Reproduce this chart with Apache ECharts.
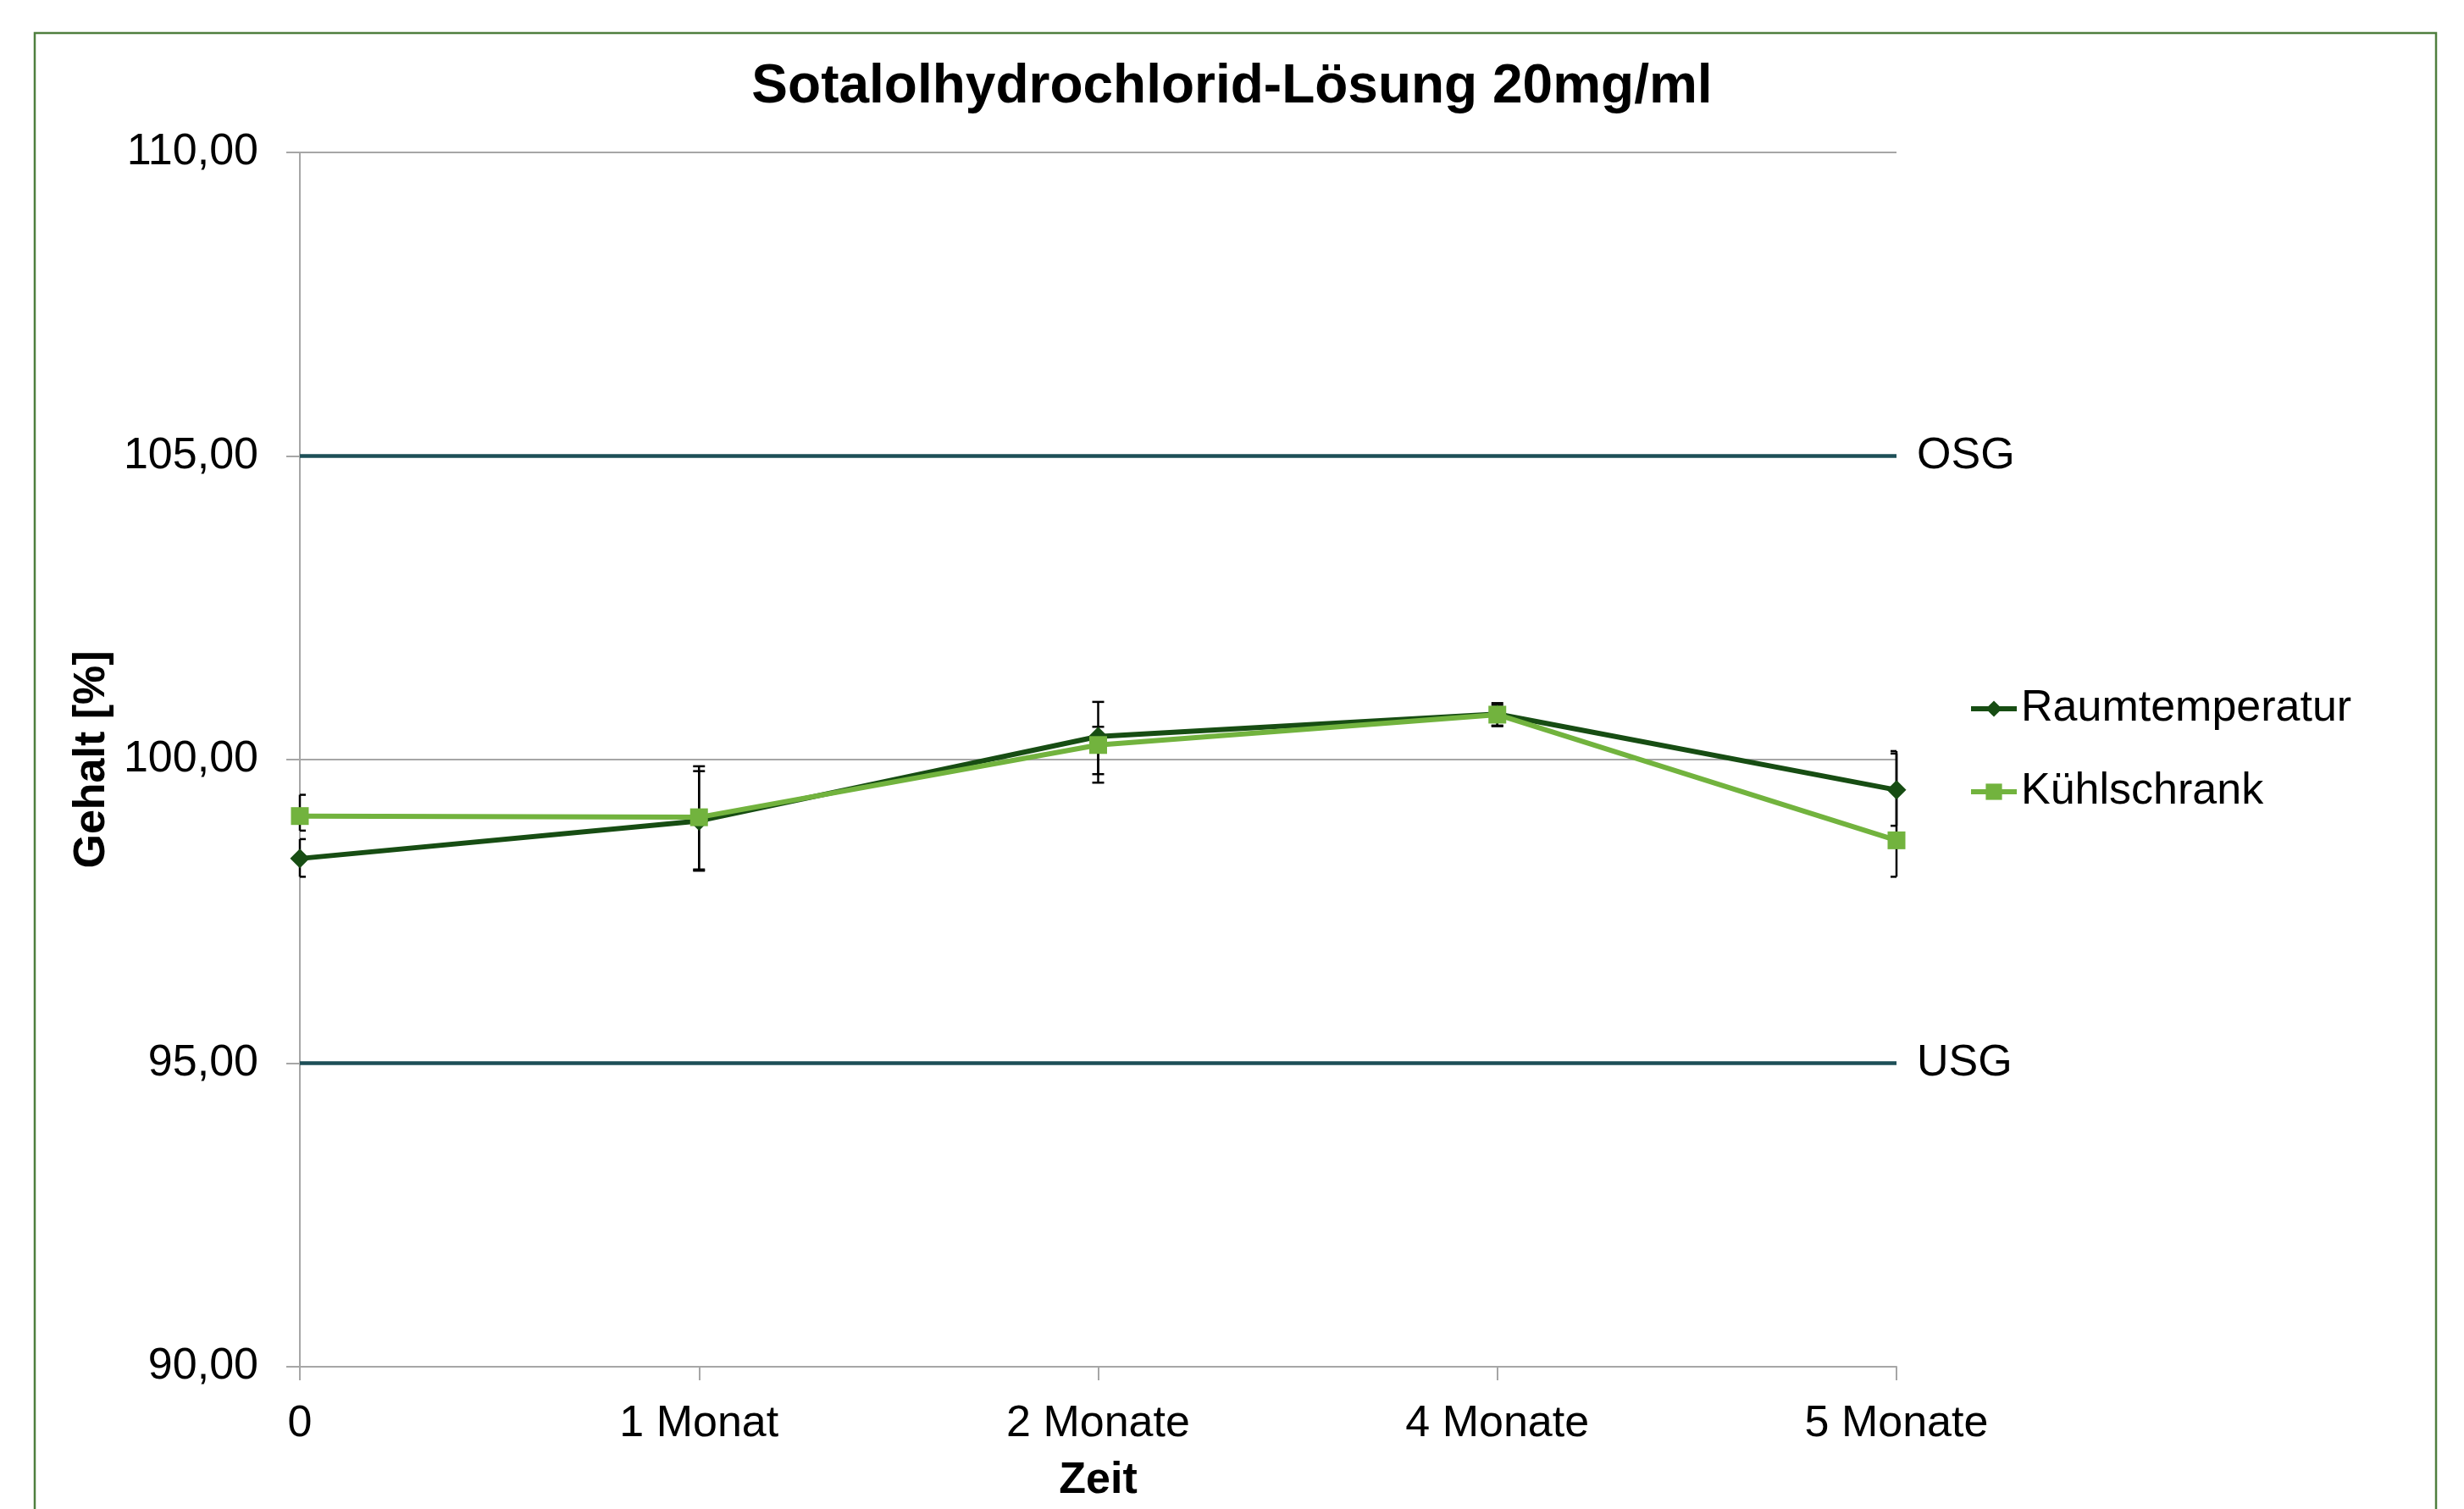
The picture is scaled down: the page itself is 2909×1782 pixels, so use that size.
<!DOCTYPE html>
<html>
<head>
<meta charset="utf-8">
<script src="https://cdn.jsdelivr.net/npm/echarts@6/dist/echarts.min.js"></script>
<style>html,body{margin:0;padding:0;background:#fff;}#c{width:2909px;height:1782px;}</style>
</head>
<body>
<div id="c"></div>
<script>
const categories = ['0', '1 Monat', '2 Monate', '4 Monate', '5 Monate'];
const raumValues = [98.37, 98.99, 100.38, 100.75, 99.50];
const kuehlValues = [99.07, 99.05, 100.24, 100.74, 98.67];
const raumLow  = [98.07, 98.17, 99.76, 100.55, 98.91];
const raumHigh = [98.69, 99.81, 100.95, 100.93, 100.14];
const kuehlLow  = [98.83, 98.19, 99.62, 100.56, 98.07];
const kuehlHigh = [99.42, 99.89, 100.54, 100.90, 100.10];
const limits = [{ name: 'OSG', value: 105 }, { name: 'USG', value: 95 }];
const yTicks = { min: 90, max: 110, interval: 5 };

const FONT = 'Liberation Sans, Arial, sans-serif';
const chart = echarts.init(document.getElementById('c'));

function errRender(params, api) {
  const cs = params.coordSys;
  const lo = api.coord([api.value(0), api.value(1)]);
  const hi = api.coord([api.value(0), api.value(2)]);
  const w = 7;
  const x = lo[0];
  const xl = Math.max(cs.x, x - w), xr = Math.min(cs.x + cs.width, x + w);
  const st = { stroke: '#000', lineWidth: 2.5 };
  return {
    type: 'group',
    children: [
      { type: 'line', shape: { x1: x, y1: lo[1], x2: x, y2: hi[1] }, style: st },
      { type: 'line', shape: { x1: xl, y1: lo[1], x2: xr, y2: lo[1] }, style: st },
      { type: 'line', shape: { x1: xl, y1: hi[1], x2: xr, y2: hi[1] }, style: st }
    ]
  };
}

const fmt = v => v.toFixed(2).replace('.', ',');

chart.setOption({
  animation: false,
  backgroundColor: '#fff',
  title: {
    text: 'Sotalolhydrochlorid-Lösung 20mg/ml',
    left: 'center',
    top: 66,
    textStyle: { fontFamily: FONT, fontSize: 64, fontWeight: 'bold', color: '#000' }
  },
  graphic: [{
    type: 'rect',
    shape: { x: 41, y: 39, width: 2835, height: 1800 },
    style: { fill: 'none', stroke: '#4f7f3f', lineWidth: 2.5 },
    silent: true, z: -1
  }],
  legend: {
    orient: 'vertical',
    left: 2319,
    top: 806,
    itemWidth: 54,
    itemHeight: 24,
    itemGap: 46,
    data: ['Raumtemperatur', 'Kühlschrank'],
    lineStyle: { width: 6 },
    textStyle: { fontFamily: FONT, fontSize: 52, color: '#000', lineHeight: 52 }
  },
  grid: { left: 354, right: 670, top: 180, bottom: 168, containLabel: false },
  xAxis: {
    type: 'category',
    data: categories,
    boundaryGap: false,
    name: 'Zeit',
    nameLocation: 'middle',
    nameGap: 109,
    nameTextStyle: { fontFamily: FONT, fontSize: 52, fontWeight: 'bold', color: '#000' },
    axisLine: { lineStyle: { color: '#a6a6a6', width: 2 } },
    axisTick: { show: true, length: 16, alignWithLabel: true, lineStyle: { color: '#a6a6a6', width: 2 } },
    axisLabel: { fontFamily: FONT, fontSize: 52, color: '#000', margin: 42 },
    splitLine: { show: false }
  },
  yAxis: {
    type: 'value',
    min: yTicks.min, max: yTicks.max, interval: yTicks.interval,
    name: 'Gehalt [%]',
    nameLocation: 'middle',
    nameGap: 218,
    nameTextStyle: { fontFamily: FONT, fontSize: 52, fontWeight: 'bold', color: '#000' },
    axisLine: { show: true, lineStyle: { color: '#a6a6a6', width: 2 } },
    axisTick: { show: true, length: 16, lineStyle: { color: '#a6a6a6', width: 2 } },
    axisLabel: { fontFamily: FONT, fontSize: 52, color: '#000', margin: 49, formatter: fmt },
    splitLine: { show: true, lineStyle: { color: '#a6a6a6', width: 2 } }
  },
  series: [
    {
      type: 'custom',
      name: 'errRaum',
      renderItem: errRender,
      data: categories.map((c, i) => [i, raumLow[i], raumHigh[i]]),
      z: 1, silent: true
    },
    {
      type: 'custom',
      name: 'errKuehl',
      renderItem: errRender,
      data: categories.map((c, i) => [i, kuehlLow[i], kuehlHigh[i]]),
      z: 1, silent: true
    },
    {
      type: 'line',
      name: 'Raumtemperatur',
      data: raumValues,
      symbol: 'diamond',
      symbolSize: 23,
      color: '#174d13',
      lineStyle: { color: '#174d13', width: 6 },
      itemStyle: { color: '#174d13' },
      z: 3,
      markLine: {
        silent: true,
        symbol: ['none', 'none'],
        lineStyle: { color: '#1d4f57', width: 4.5, type: 'solid' },
        label: { show: true, position: 'end', formatter: '{b}', distance: 24, fontFamily: FONT, fontSize: 52, color: '#000' },
        data: limits.map(l => ({ name: l.name, yAxis: l.value }))
      }
    },
    {
      type: 'line',
      name: 'Kühlschrank',
      data: kuehlValues,
      symbol: 'rect',
      symbolSize: 21,
      color: '#72b33e',
      lineStyle: { color: '#72b33e', width: 6 },
      itemStyle: { color: '#72b33e' },
      z: 4
    }
  ]
});
</script>
</body>
</html>
